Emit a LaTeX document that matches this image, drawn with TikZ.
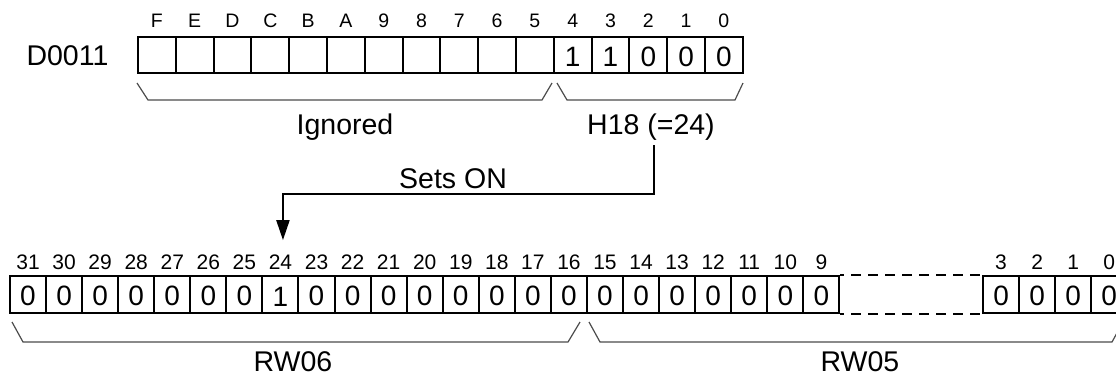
\documentclass[tikz,border=0pt]{standalone}
\usepackage{fontspec}
\setmainfont{Liberation Sans}
\usetikzlibrary{calc,arrows.meta}
\begin{document}
\begin{tikzpicture}[x=1pt,y=-1pt,
  cellA/.style={draw, line width=2pt, minimum width=37.8pt, minimum height=36pt, inner sep=0pt, text height=23pt, font=\fontsize{28}{30}\selectfont, anchor=north west},
  cellB/.style={cellA, minimum width=36.06pt, minimum height=37pt},
  bitnum/.style={inner sep=0pt, anchor=base, font=\fontsize{19.5}{21}\selectfont},
  bitnumB/.style={bitnum, font=\fontsize{21}{23}\selectfont},
  lbl/.style={inner sep=0pt, anchor=base, font=\fontsize{28.5}{32}\selectfont},
  brace/.style={line width=1.2pt, black!70},
  flow/.style={line width=2pt, -{Triangle[width=13pt,length=20pt]}},
  gapline/.style={line width=2pt, dash pattern=on 10pt off 7pt, dash phase=6pt}
]
\useasboundingbox (0,0) rectangle (1116,376);

% upper register D0011
\node[lbl] (reg) at (67.5,65) {D0011};
\foreach \b/\v [count=\k from 0] in {F/{},E/{},D/{},C/{},B/{},A/{},9/{},8/{},7/{},6/{},5/{},4/1,3/1,2/0,1/0,0/0} {
  \node[cellA] (t\b) at ({137+\k*37.8},36) {\v};
  \node[bitnum] (tl\b) at ($(t\b.north)+(0,-9)$) {\b};
}

% upper braces
\draw[brace] (137,83) -- (148,100) -- (542,100) -- (552,83);
\draw[brace] (557,83) -- (567,100) -- (735,100) -- (743,83);
\node[lbl] (ign) at (345,134) {Ignored};
\node[lbl] (h18) at (651,134) {H18 (=24)};

% lower register
\foreach \b/\v [count=\k from 0] in {31/0,30/0,29/0,28/0,27/0,26/0,25/0,24/1,23/0,22/0,21/0,20/0,19/0,18/0,17/0,16/0,15/0,14/0,13/0,12/0,11/0,10/0,9/0} {
  \node[cellB] (b\b) at ({9+\k*36.06},275) {\v};
  \node[bitnumB] (bl\b) at ($(b\b.north)+(0,-6)$) {\b};
}
\foreach \b/\v [count=\k from 0] in {3/0,2/0,1/0,0/0} {
  \node[cellB] (b\b) at ({982+\k*36.06},275) {\v};
  \node[bitnumB] (bl\b) at ($(b\b.north)+(0,-6)$) {\b};
}
\draw[gapline] (b9.north east) -- (b3.north west);
\draw[gapline] (b9.south east) -- (b3.south west);

% lower braces
\draw[brace] (12,322) -- (23,342) -- (568,342) -- (580,322);
\draw[brace] (589,322) -- (600,342) -- (1112,342) -- (1123,322);
\node[lbl] (rw6) at (293,371) {RW06};
\node[lbl] (rw5) at (860,371) {RW05};

% arrow
\node[lbl] (sets) at (453,188) {Sets ON};
\coordinate (arS) at ($(h18.south)+(3,5)$);
\coordinate (arT) at ($(bl24.north)+(2.5,-14)$);
\coordinate (bendY) at (0,194);
\coordinate (arR) at (arS |- bendY);
\coordinate (arL) at (arT |- bendY);
\draw[flow] (arS) -- (arR) -- (arL) -- (arT);
\end{tikzpicture}
\end{document}
